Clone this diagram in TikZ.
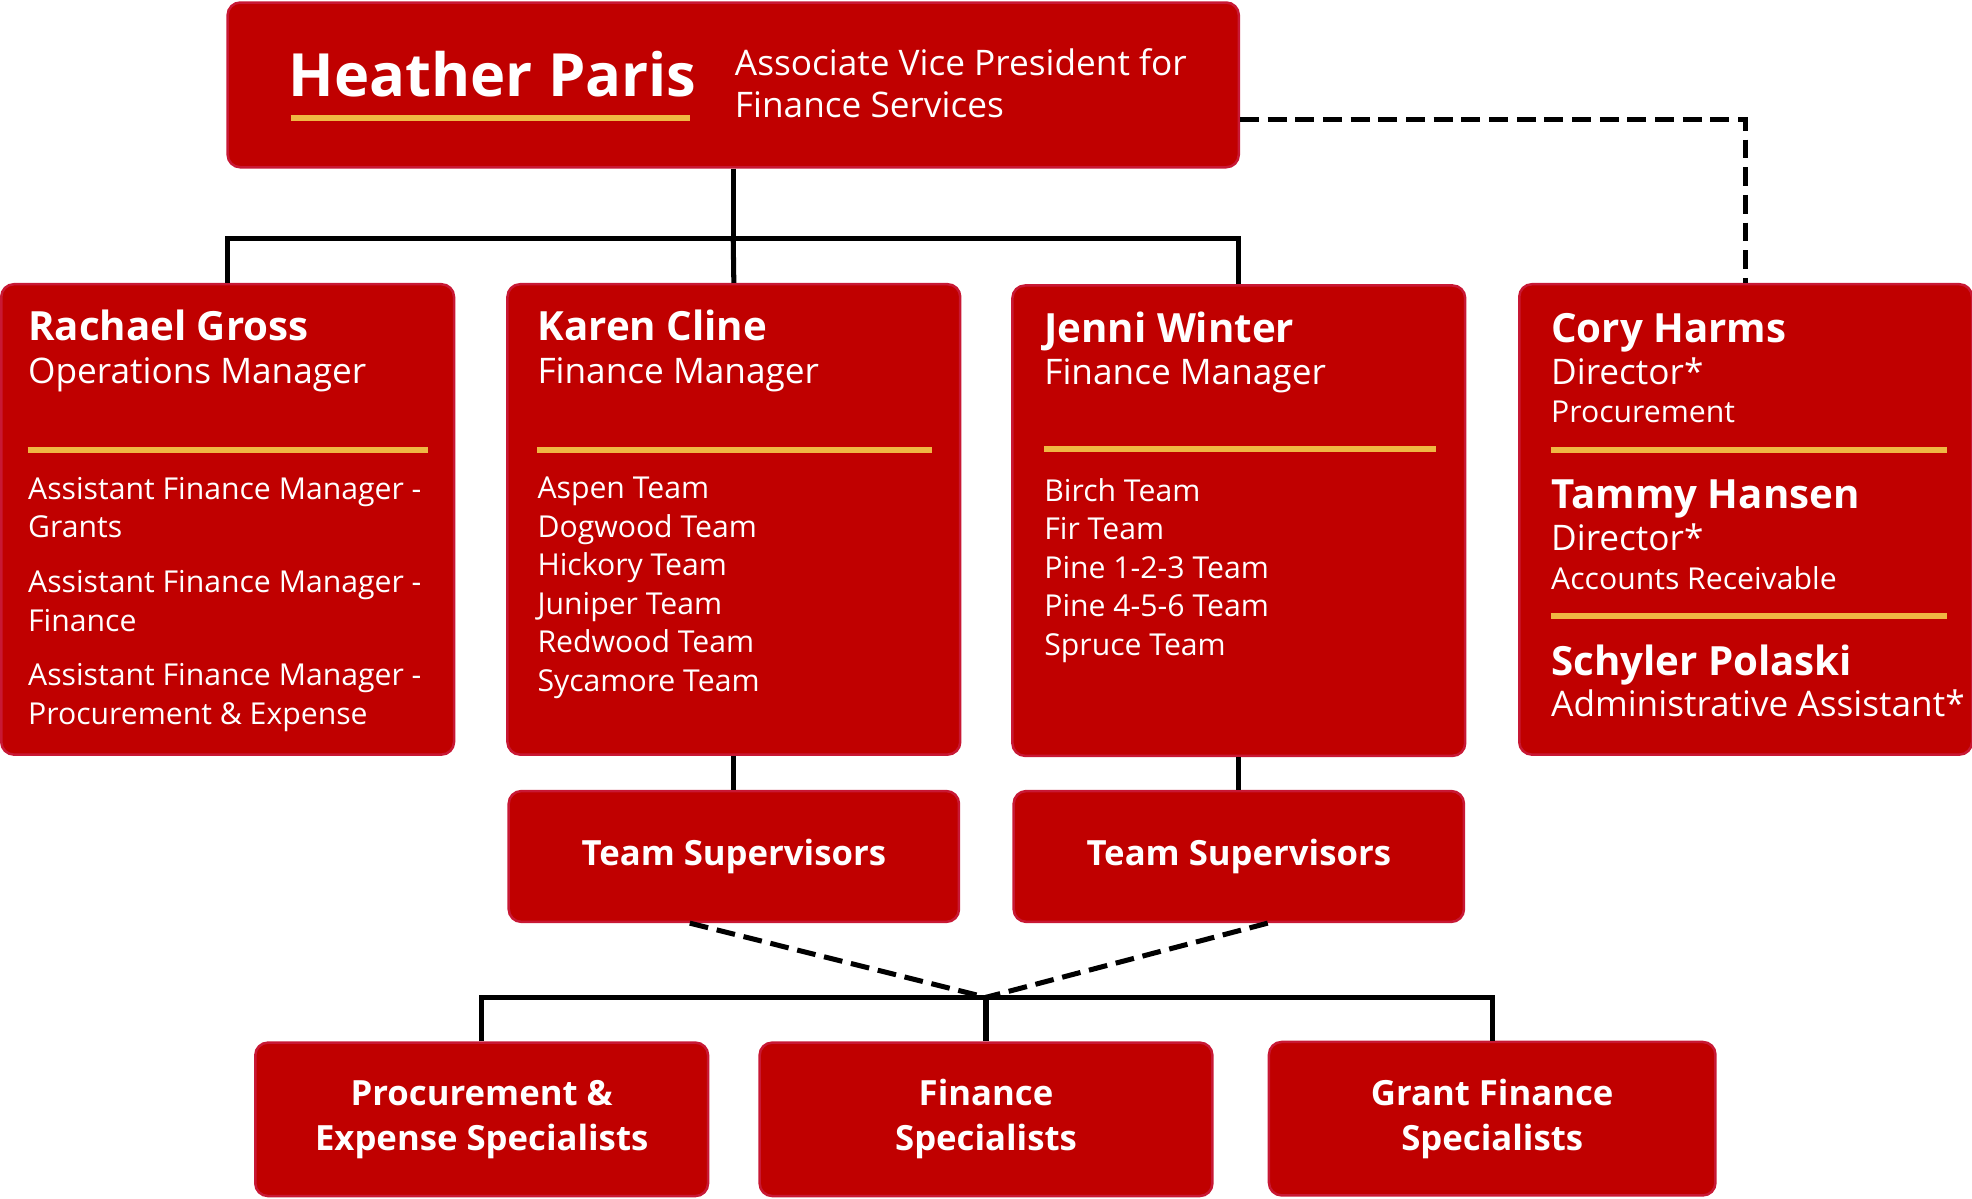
\documentclass[tikz,border=0pt]{standalone}
\usepackage{fontspec}
\setmainfont{Open Sans}
\usetikzlibrary{positioning}
\definecolor{boxred}{RGB}{192,0,0}
\definecolor{boxedge}{RGB}{200,24,52}
\definecolor{rulegold}{RGB}{239,183,67}
\begin{document}
\begin{tikzpicture}[x=0.5pt, y=-0.5pt, line join=miter, text=white]
		\tikzset{box/.style={draw=boxedge, line width=1pt, fill=boxred, rounded corners=5pt, inner sep=0pt},
			mainbox/.style={box, minimum width=402pt, minimum height=65.5pt},
			deptbox/.style={box, minimum width=180pt, minimum height=187pt},
			supbox/.style={box, minimum width=179pt, minimum height=52pt, font=\fontsize{13.8}{17}\selectfont\bfseries},
			specbox/.style={box, minimum width=180pt, minimum height=61pt, align=center, font=\fontsize{13.8}{18}\selectfont\bfseries},
			txt/.style={inner sep=0pt, anchor=base west, align=left},
			pname/.style={txt, font=\fontsize{16}{19}\selectfont\bfseries},
			ptitle/.style={txt, font=\fontsize{14}{17}\selectfont},
			plist/.style={inner sep=0pt, anchor=north west, align=left, font=\fontsize{12}{15.3}\selectfont},
			goldrule/.style={draw=rulegold, line width=2.5pt},
			link/.style={draw=black, line width=2pt},
			dashlink/.style={draw=black, line width=2pt, dash pattern=on 7.5pt off 3.5pt}}
		\useasboundingbox (0,0) rectangle (1568,953);
		\node[mainbox] (heather) at (583,67.5) {};
		\node[deptbox] (rachael) at (181,413) {};
		\node[deptbox] (karen) at (583.5,413) {};
		\node[deptbox] (jenni) at (985,414) {};
		\node[deptbox] (cory) at (1388,413) {};
		\node[supbox] (supk) at (583.5,681) {Team Supervisors};
		\node[supbox] (supj) at (985,681) {Team Supervisors};
		\node[specbox] (procspec) at (383,890) {Procurement \&\\Expense Specialists};
		\node[specbox] (finspec) at (784,890) {Finance\\Specialists};
		\node[specbox, minimum width=177.5pt] (grantspec) at (1186.5,889.5) {Grant Finance\\Specialists};
		\coordinate (hub) at (583,190);
		\coordinate (meet) at (784,793);
		\draw[link] (heather.south) -- (hub);
		\draw[link] (rachael.north) |- (hub) -| (jenni.north);
		\draw[link] (hub) -- (karen.north);
		\draw[dashlink] ([yshift=19.5pt]heather.south east) -| (cory.north);
		\draw[link] (karen.south) -- (supk.north);
		\draw[link] (jenni.south) -- (supj.north);
		\draw[dashlink] ([xshift=-17.5pt]supk.south) -- (meet);
		\draw[dashlink] ([xshift=11.5pt]supj.south) -- (meet);
		\draw[link] (procspec.north) |- (meet) -| (grantspec.north);
		\draw[link] (meet) -- (finspec.north);
		\node[txt, font=\fontsize{23.7}{27}\selectfont\bfseries] (hpname) at (229,77) {Heather Paris};
		\draw[goldrule] (231,94) -- (549,94);
		\node[plist, font=\fontsize{14}{17}\selectfont] (hptitle) at (584,38) {Associate Vice President for\\Finance Services};
		\node[pname] (rgname) at (22,271) {Rachael Gross};
		\node[ptitle] (rgtitle) at (22,305) {Operations Manager};
		\draw[goldrule] (22,358) -- (340,358);
		\node[plist] (rglist) at (22,379) {Assistant Finance Manager -\\Grants\\[6.5pt]Assistant Finance Manager -\\Finance\\[6.5pt]Assistant Finance Manager -\\Procurement \& Expense};
		\node[pname] (kcname) at (427,271) {Karen Cline};
		\node[ptitle] (kctitle) at (427,305) {Finance Manager};
		\draw[goldrule] (427,358) -- (741,358);
		\node[plist] (kclist) at (427,379) {Aspen Team\\Dogwood Team\\Hickory Team\\Juniper Team\\Redwood Team\\Sycamore Team};
		\node[pname] (jwname) at (830,272) {Jenni Winter};
		\node[ptitle] (jwtitle) at (830,306) {Finance Manager};
		\draw[goldrule] (830,357) -- (1142,357);
		\node[plist] (jwlist) at (830,380) {Birch Team\\Fir Team\\Pine 1-2-3 Team\\Pine 4-5-6 Team\\Spruce Team};
		\node[pname] (chname) at (1233,272) {Cory Harms};
		\node[ptitle] (chtitle) at (1233,306) {Director*};
		\node[txt, font=\fontsize{12}{15}\selectfont] (chunit) at (1233,336) {Procurement};
		\draw[goldrule] (1233,358) -- (1548,358);
		\node[pname] (thname) at (1233,404) {Tammy Hansen};
		\node[ptitle] (thtitle) at (1233,438) {Director*};
		\node[txt, font=\fontsize{12}{15}\selectfont] (thunit) at (1233,469) {Accounts Receivable};
		\draw[goldrule] (1233,490) -- (1548,490);
		\node[pname] (spname) at (1233,537) {Schyler Polaski};
		\node[ptitle] (sptitle) at (1233,570) {Administrative Assistant*};
\end{tikzpicture}
\end{document}
